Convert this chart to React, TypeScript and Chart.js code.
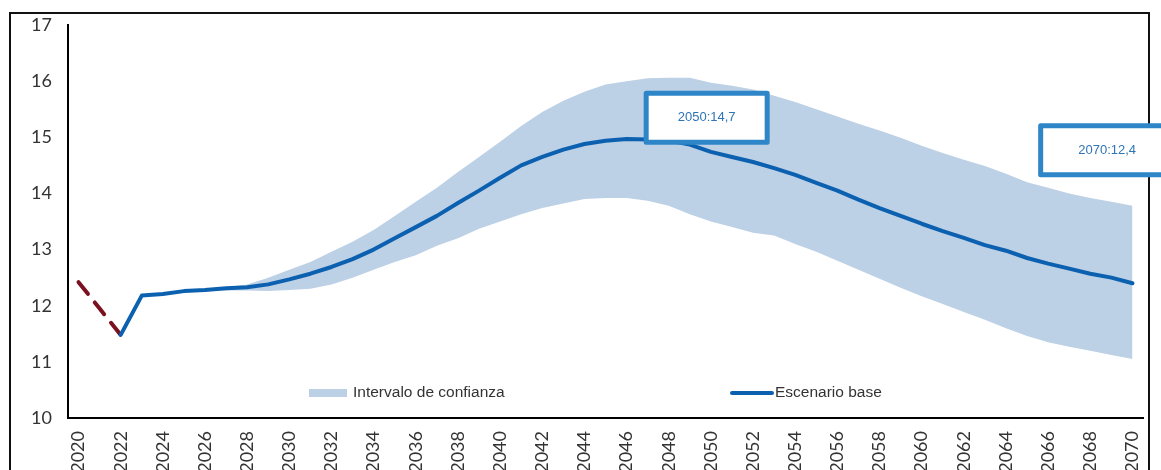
import React, { useEffect, useRef } from 'react';
import { Chart, registerables } from 'chart.js';

Chart.register(...registerables);

const years = [
  '2020', '2021', '2022', '2023', '2024', '2025', '2026', '2027', '2028', '2029',
  '2030', '2031', '2032', '2033', '2034', '2035', '2036', '2037', '2038', '2039',
  '2040', '2041', '2042', '2043', '2044', '2045', '2046', '2047', '2048', '2049',
  '2050', '2051', '2052', '2053', '2054', '2055', '2056', '2057', '2058', '2059',
  '2060', '2061', '2062', '2063', '2064', '2065', '2066', '2067', '2068', '2069',
  '2070',
];

// 2020-2022 (dashed, historical)
const historical = [12.42, 11.95, 11.48];

// 2022-2070 (Escenario base)
const baseScenario = [
  11.48, 12.18, 12.21, 12.26, 12.28, 12.31, 12.33, 12.38, 12.47, 12.57,
  12.69, 12.83, 13.0, 13.2, 13.4, 13.6, 13.83, 14.05, 14.28, 14.5,
  14.65, 14.78, 14.88, 14.94, 14.97, 14.96, 14.94, 14.87, 14.74, 14.65,
  14.56, 14.45, 14.33, 14.19, 14.05, 13.89, 13.74, 13.6, 13.46, 13.33,
  13.21, 13.08, 12.98, 12.85, 12.75, 12.66, 12.57, 12.5, 12.4,
];

// 2023-2070 (Intervalo de confianza, upper / lower)
const bandUpper = [
  12.18, 12.21, 12.26, 12.29, 12.33, 12.38, 12.5, 12.64, 12.78, 12.96,
  13.14, 13.35, 13.6, 13.85, 14.1, 14.38, 14.65, 14.92, 15.2, 15.45,
  15.65, 15.81, 15.94, 16.0, 16.05, 16.06, 16.06, 15.97, 15.92, 15.85,
  15.74, 15.63, 15.5, 15.37, 15.24, 15.12, 14.99, 14.85, 14.72, 14.6,
  14.49, 14.35, 14.2, 14.1, 14.0, 13.92, 13.85, 13.78,
];
const bandLower = [
  12.18, 12.21, 12.25, 12.27, 12.27, 12.27, 12.26, 12.28, 12.3, 12.38,
  12.5, 12.64, 12.78, 12.9, 13.07, 13.2, 13.37, 13.5, 13.63, 13.74,
  13.82, 13.9, 13.92, 13.92, 13.87, 13.78, 13.63, 13.5, 13.4, 13.3,
  13.25, 13.1, 12.96, 12.8, 12.64, 12.48, 12.32, 12.17, 12.03, 11.89,
  11.75, 11.6, 11.46, 11.35, 11.27, 11.2, 11.12, 11.05,
];

const yTicks = [10, 11, 12, 13, 14, 15, 16, 17];

const annotationLabels = ['2050:14,7', '2070:12,4'];
const annotationYears = [2049.8, 2068.8];
const annotationValues = [15.35, 14.77];

const legendLabels = ['Intervalo de confianza', 'Escenario base'];

const BAND_COLOR = '#BCD0E6';
const LINE_COLOR = '#0C60B0';
const HIST_COLOR = '#7A1020';

function padTo(startIdx: number, values: number[]): (number | null)[] {
  const out: (number | null)[] = years.map(() => null);
  values.forEach((v, i) => {
    out[startIdx + i] = v;
  });
  return out;
}

const overlayPlugin = {
  id: 'overlay',
  afterDatasetsDraw(chart: any) {
    const ctx = chart.ctx;
    const xs = chart.scales.x;
    const ys = chart.scales.y;
    // annotation boxes
    const widths = [121, 133];
    annotationLabels.forEach((label, i) => {
      const cx = xs.getPixelForValue(annotationYears[i] - 2020);
      const cy = ys.getPixelForValue(annotationValues[i]);
      const w = widths[i];
      const h = 49;
      ctx.save();
      ctx.fillStyle = '#ffffff';
      ctx.fillRect(cx - w / 2, cy - h / 2, w, h);
      ctx.strokeStyle = '#2E86C8';
      ctx.lineWidth = 5;
      ctx.lineJoin = 'round';
      ctx.strokeRect(cx - w / 2, cy - h / 2, w, h);
      ctx.fillStyle = '#2E75B6';
      ctx.font = '13px "Liberation Sans", Arial, sans-serif';
      ctx.textAlign = 'center';
      ctx.textBaseline = 'middle';
      ctx.fillText(label, cx, cy);
      ctx.restore();
    });
    // legend
    ctx.save();
    const ly = 393;
    ctx.fillStyle = BAND_COLOR;
    ctx.fillRect(309, ly - 4, 38, 8);
    ctx.strokeStyle = LINE_COLOR;
    ctx.lineWidth = 4;
    ctx.lineCap = 'round';
    ctx.beginPath();
    ctx.moveTo(732, ly);
    ctx.lineTo(772, ly);
    ctx.stroke();
    ctx.fillStyle = '#333333';
    ctx.font = '15.5px "Liberation Sans", Arial, sans-serif';
    ctx.textAlign = 'left';
    ctx.textBaseline = 'middle';
    ctx.fillText(legendLabels[0], 353, ly);
    ctx.fillText(legendLabels[1], 775, ly);
    ctx.restore();
  },
};

export default function App() {
  const canvasRef = useRef<HTMLCanvasElement | null>(null);

  useEffect(() => {
    const canvas = canvasRef.current;
    if (!canvas) return;
    const chart = new Chart(canvas, {
      type: 'line',
      data: {
        labels: years,
        datasets: [
          {
            label: 'Escenario base',
            data: padTo(2, baseScenario),
            borderColor: LINE_COLOR,
            borderWidth: 4,
            pointRadius: 0,
            fill: false,
            tension: 0,
            borderCapStyle: 'round',
            borderJoinStyle: 'round',
          },
          {
            label: 'Histórico',
            data: padTo(0, historical),
            borderColor: HIST_COLOR,
            borderWidth: 4,
            borderDash: [15, 11],
            borderCapStyle: 'round',
            pointRadius: 0,
            fill: false,
            tension: 0,
          },
          {
            label: 'Intervalo de confianza',
            data: padTo(3, bandUpper),
            borderWidth: 0,
            borderColor: 'rgba(0,0,0,0)',
            backgroundColor: BAND_COLOR,
            pointRadius: 0,
            fill: '+1',
            tension: 0,
          },
          {
            label: 'lower',
            data: padTo(3, bandLower),
            borderWidth: 0,
            borderColor: 'rgba(0,0,0,0)',
            pointRadius: 0,
            fill: false,
            tension: 0,
          },
        ],
      },
      options: {
        responsive: false,
        animation: false,
        events: [],
        layout: { padding: { left: 10, right: 18, top: 25, bottom: 0 } },
        plugins: {
          legend: { display: false },
          tooltip: { enabled: false },
        },
        scales: {
          x: {
            type: 'category',
            offset: true,
            grid: { display: false, drawTicks: false },
            border: { display: true, color: '#000000', width: 2 },
            ticks: {
              autoSkip: false,
              minRotation: 90,
              maxRotation: 90,
              padding: 13,
              color: '#333333',
              font: { family: 'Lato, sans-serif', size: 18 },
              callback: (_v: any, i: number) => (i % 2 === 0 ? years[i] : ''),
            },
            afterFit: (scale: any) => {
              scale.height = 52;
              scale.paddingLeft = 0;
              scale.paddingRight = 0;
            },
          },
          y: {
            min: 10,
            max: 17,
            grid: { display: false, drawTicks: false },
            border: { display: true, color: '#000000', width: 2 },
            afterBuildTicks: (scale: any) => {
              scale.ticks = yTicks.map((v) => ({ value: v }));
            },
            ticks: {
              padding: 16,
              color: '#333333',
              font: { family: 'Lato, sans-serif', size: 18 },
            },
            afterFit: (scale: any) => {
              scale.width = 58;
              scale.paddingTop = 0;
              scale.paddingBottom = 0;
            },
          },
        },
      },
      plugins: [overlayPlugin],
    });
    return () => chart.destroy();
  }, []);

  return (
    <div
      style={{
        position: 'fixed',
        left: 0,
        top: 0,
        width: 1161,
        height: 470,
        overflow: 'hidden',
        background: '#ffffff',
      }}
    >
      <div
        style={{
          position: 'absolute',
          left: 9,
          top: 12,
          width: 1137,
          height: 520,
          border: '2px solid #111111',
        }}
      />
      <canvas
        ref={canvasRef}
        width={1161}
        height={470}
        style={{ position: 'absolute', left: 0, top: 0, display: 'block' }}
      />
    </div>
  );
}
